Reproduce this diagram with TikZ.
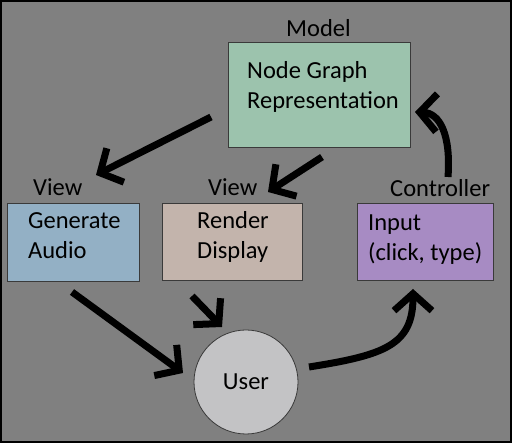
\documentclass[tikz,border=0pt]{standalone}
\usepackage{fontspec}
\setmainfont{Carlito}
\usetikzlibrary{arrows.meta}
\definecolor{bg}{HTML}{808080}
\definecolor{boxline}{HTML}{3A3A3A}
\definecolor{modelc}{HTML}{9CC3AD}
\definecolor{audioc}{HTML}{93B0C5}
\definecolor{renderc}{HTML}{C3B4AC}
\definecolor{inputc}{HTML}{A78BC3}
\definecolor{userc}{HTML}{C3C3C5}
\begin{document}
\begin{tikzpicture}[x=1pt,y=-1pt,
  box/.style={draw=boxline, line width=0.8pt, inner sep=0pt, anchor=north west},
  txt/.style={anchor=base west, inner sep=0pt, font=\fontsize{24.5}{30}\selectfont},
  flow/.style={line width=7pt, -{Straight Barb[length=17pt,width=38pt]}}
]
\useasboundingbox (0,0) rectangle (512,443);
\fill[bg] (0,0) rectangle (512,443);
\draw[line width=2pt, black] (1,1) rectangle (511,442);

% boxes
\node[box, fill=modelc, minimum width=182pt, minimum height=105pt] (model) at (228,42) {};
\node[box, fill=audioc, minimum width=132pt, minimum height=78pt] (audio) at (7,203) {};
\node[box, fill=renderc, minimum width=140pt, minimum height=77pt] (render) at (162,203) {};
\node[box, fill=inputc, minimum width=136pt, minimum height=77pt] (input) at (357,203) {};
\node[circle, draw=boxline, line width=0.8pt, fill=userc, minimum size=104pt, inner sep=0pt,
      font=\fontsize{24.5}{30}\selectfont] (user) at (246,382) {User};

% labels
\node[txt] (lmodel) at (286,37) {Model};
\node[txt] (lview1) at (33,196) {View};
\node[txt] (lview2) at (208,196) {View};
\node[txt] (lctrl) at (390,197) {Controller};

% box texts
\node[txt] (m1) at (247,79) {Node Graph};
\node[txt] (m2) at (247,109) {Representation};
\node[txt] (a1) at (28,229) {Generate};
\node[txt] (a2) at (28,259) {Audio};
\node[txt] (r1) at (197,229) {Render};
\node[txt] (r2) at (197,259) {Display};
\node[txt] (i1) at (368,231) {Input};
\node[txt] (i2) at (368,261) {(click, type)};

% connector ends
\coordinate (mas) at (211,117); \coordinate (mae) at (96,175);
\coordinate (mrs) at (322,157); \coordinate (mre) at (268,192);
\coordinate (aus) at (72,292);  \coordinate (aue) at (183,373);
\coordinate (rus) at (192,296); \coordinate (rue) at (222,327);
\coordinate (uis) at (309,367); \coordinate (uie) at (413,289);
\coordinate (ims) at (448,177); \coordinate (ime) at (415,112);

\draw[flow] (mas) -- (mae);
\draw[flow] (mrs) -- (mre);
\draw[flow] (aus) -- (aue);
\draw[flow] (rus) -- (rue);
\draw[flow] (uis) .. controls (385,355) and (413,345) .. (uie);
\draw[flow] (ims) .. controls (451,135) and (440,113) .. (ime);
\end{tikzpicture}
\end{document}
